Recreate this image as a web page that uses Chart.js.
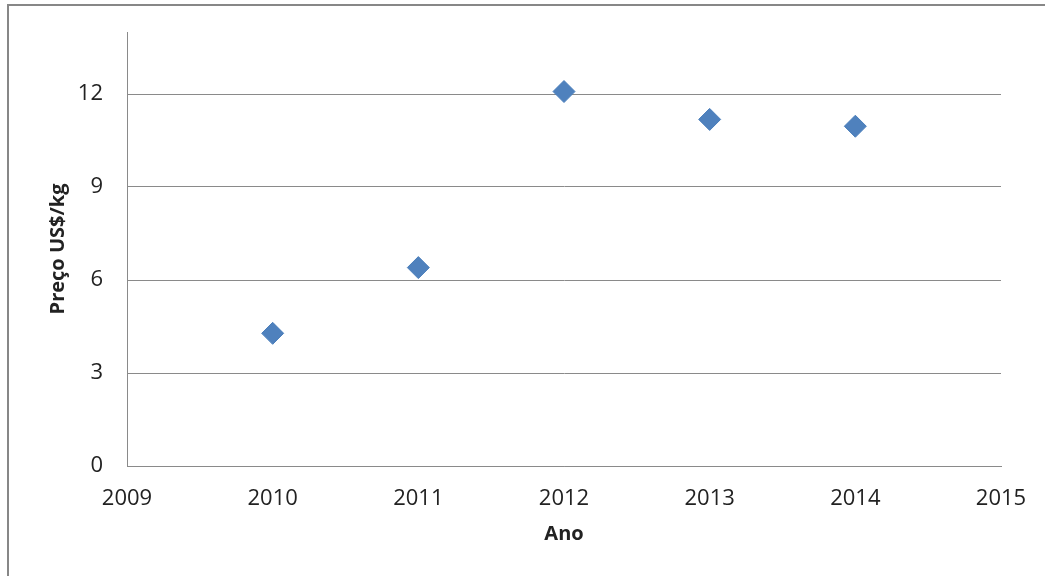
<!DOCTYPE html>
<html>
<head>
<meta charset="utf-8">
<script src="https://cdn.jsdelivr.net/npm/chart.js@4/dist/chart.umd.min.js"></script>
<style>
  html, body { margin: 0; padding: 0; background: #fff; overflow: hidden; }
  #wrap { position: relative; width: 1045px; height: 576px; }
  #frame { position: absolute; left: 7px; top: 4px; width: 1100px; height: 700px;
           border: 2px solid #878787; pointer-events: none; }
  canvas { position: absolute; left: 0; top: 0; }
</style>
</head>
<body>
<div id="wrap">
  <canvas id="c" width="1045" height="576"></canvas>
  <div id="frame"></div>
</div>
<script>
// Yearly price observations
const years = [2010, 2011, 2012, 2013, 2014];
const prices = [4.28, 6.40, 12.08, 11.18, 10.96];
const yTicks = [0, 3, 6, 9, 12];
const xTicks = [2009, 2010, 2011, 2012, 2013, 2014, 2015];

const textColor = '#222';
const lineColor = '#8a8a8a';
const fontFamily = '"Open Sans", "DejaVu Sans", sans-serif';

const points = years.map((y, i) => ({ x: y, y: prices[i] }));

new Chart(document.getElementById('c'), {
  type: 'scatter',
  data: {
    datasets: [{
      label: 'Preço',
      data: points,
      pointStyle: 'rectRot',
      pointRadius: 11,
      pointHoverRadius: 11,
      backgroundColor: '#4F81BD',
      borderColor: '#4A7EBB',
      borderWidth: 1
    }]
  },
  options: {
    responsive: false,
    animation: false,
    events: [],
    layout: { padding: { top: 32, right: 44, left: 0, bottom: 0 } },
    plugins: { legend: { display: false }, tooltip: { enabled: false } },
    scales: {
      x: {
        type: 'linear',
        min: xTicks[0],
        max: xTicks[xTicks.length - 1],
        afterBuildTicks: s => { s.ticks = xTicks.map(v => ({ value: v })); },
        afterFit: s => { s.height = 110; s.paddingLeft = 0; s.paddingRight = 0; },
        grid: { display: false, drawTicks: false },
        border: { color: lineColor, width: 1 },
        ticks: {
          padding: 20,
          color: textColor,
          font: { family: fontFamily, size: 22 },
          callback: v => String(v),
          maxRotation: 0
        },
        title: {
          display: true,
          text: 'Ano',
          color: textColor,
          font: { family: fontFamily, size: 20, weight: 'bold' },
          padding: { top: 0, bottom: 30 }
        }
      },
      y: {
        min: 0,
        max: 14,
        afterBuildTicks: s => { s.ticks = yTicks.map(v => ({ value: v })); },
        afterFit: s => { s.width = 127; s.paddingTop = 0; s.paddingBottom = 0; },
        grid: { color: lineColor, lineWidth: 1, drawTicks: false },
        border: { color: lineColor, width: 1 },
        ticks: {
          padding: 24,
          color: textColor,
          font: { family: fontFamily, size: 22 }
        },
        title: {
          display: true,
          text: 'Preço US$/kg',
          color: textColor,
          font: { family: fontFamily, size: 20, weight: 'bold' },
          padding: { top: 46, bottom: 0 }
        }
      }
    }
  }
});
</script>
</body>
</html>
